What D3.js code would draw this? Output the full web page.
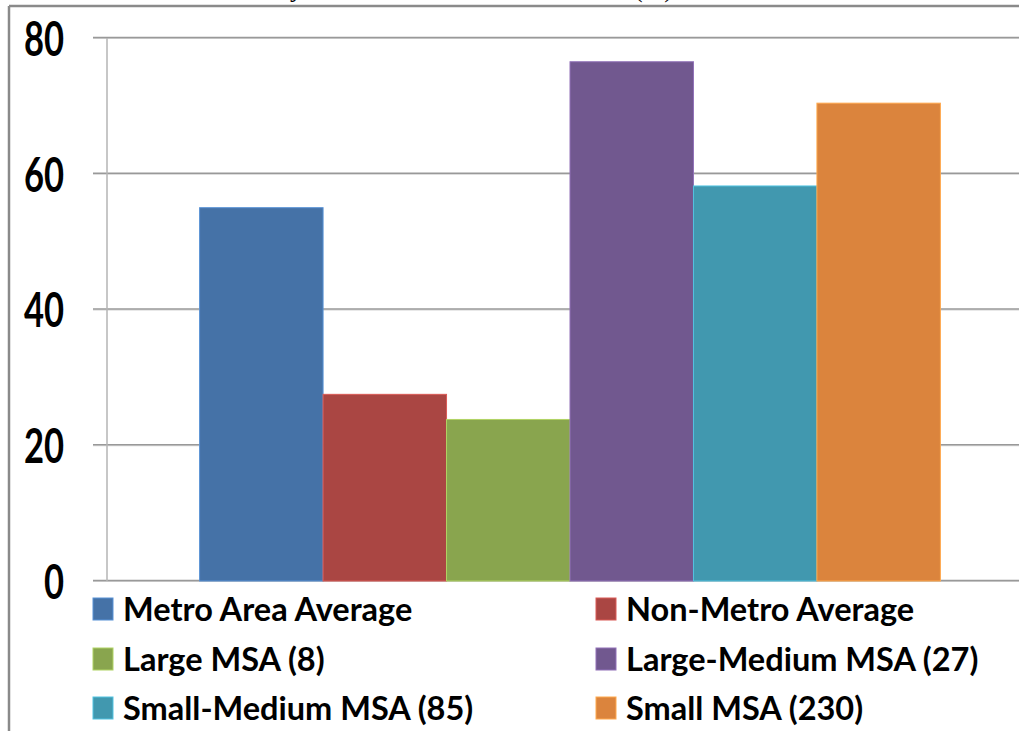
<!DOCTYPE html>
<html>
<head>
<meta charset="utf-8">
<script src="https://cdn.jsdelivr.net/npm/d3@7"></script>
<style>
  html, body { margin: 0; padding: 0; background: #fff; }
  svg { display: block; }
</style>
</head>
<body>
<svg id="chart" width="1019" height="731"></svg>
<script>
// Series shown as one cluster of bars
const seriesNames = [
  "Metro Area Average",
  "Non-Metro Average",
  "Large MSA (8)",
  "Large-Medium MSA (27)",
  "Small-Medium MSA (85)",
  "Small MSA (230)"
];
const seriesValues = [55, 27.5, 23.8, 76.5, 58.2, 70.4];
const seriesColors = ["#4572A7", "#AA4643", "#89A54E", "#71588F", "#4198AF", "#DB843D"];
const yTicks = [0, 20, 40, 60, 80];

const svg = d3.select("#chart");
const W = 1019, H = 731;

// Plot area (right side runs past the visible canvas)
const plot = { left: 107, right: 1033, top: 38, bottom: 581 };
const gapWidth = 1.5; // gap between clusters, as a fraction of one bar

const x = d3.scaleBand()
  .domain(seriesNames)
  .range([plot.left, plot.right])
  .paddingInner(0)
  .paddingOuter(gapWidth / 2);

const y = d3.scaleLinear()
  .domain([0, 80])
  .range([plot.bottom, plot.top]);

// Outer frame
svg.append("line")
  .attr("x1", 9).attr("x2", W).attr("y1", 6).attr("y2", 6)
  .attr("stroke", "#8a8a8a").attr("stroke-width", 2.5);
svg.append("line")
  .attr("x1", 9).attr("x2", 9).attr("y1", 6).attr("y2", H)
  .attr("stroke", "#8a8a8a").attr("stroke-width", 2.5);

// Title, sitting above the top of the canvas
const titleG = svg.append("g")
  .attr("font-family", "'Liberation Serif', 'DejaVu Serif', serif")
  .attr("font-size", 26).attr("fill", "#000");
titleG.append("text").attr("x", 290).attr("y", -3).text("y");
titleG.append("text").attr("x", 634).attr("y", -3).text("(%)");

// Horizontal gridlines with their outward tick marks
const grid = svg.append("g");
grid.selectAll("line.grid")
  .data(yTicks)
  .join("line")
  .attr("class", "grid")
  .attr("x1", plot.left - 14)
  .attr("x2", plot.right)
  .attr("y1", d => y(d) + 0.5)
  .attr("y2", d => y(d) + 0.5)
  .attr("stroke", "#d2d2d2")
  .attr("stroke-width", 1);
grid.selectAll("line.grid2")
  .data(yTicks)
  .join("line")
  .attr("class", "grid2")
  .attr("x1", plot.left - 14)
  .attr("x2", plot.right)
  .attr("y1", d => y(d) - 0.5)
  .attr("y2", d => y(d) - 0.5)
  .attr("stroke", "#999")
  .attr("stroke-width", 1.5);

// Vertical value axis line
svg.append("line")
  .attr("x1", plot.left).attr("x2", plot.left)
  .attr("y1", plot.top).attr("y2", plot.bottom)
  .attr("stroke", "#b4b4b4").attr("stroke-width", 1.5);

// Bars
svg.append("g")
  .selectAll("rect")
  .data(seriesNames.map((n, i) => ({ name: n, value: seriesValues[i], color: seriesColors[i] })))
  .join("rect")
  .attr("x", d => x(d.name))
  .attr("width", x.bandwidth())
  .attr("y", d => y(d.value))
  .attr("height", d => y(0) - y(d.value))
  .attr("fill", d => d.color)
  .attr("stroke", d => d3.color(d.color).brighter(0.7))
  .attr("stroke-width", 1);

// Value axis labels (tall, narrow digits)
const axis = d3.axisLeft(y).tickValues(yTicks).tickSize(0).tickFormat(d3.format("d"));
const axG = svg.append("g")
  .attr("transform", `translate(${plot.left},0)`)
  .call(axis);
axG.select(".domain").remove();
axG.selectAll(".tick text")
  .attr("x", 0)
  .attr("dy", "0.36em")
  .attr("transform", "translate(-43,0) scale(0.72,1)")
  .attr("font-family", "Lato, 'Open Sans', sans-serif")
  .attr("font-weight", 700)
  .attr("font-size", 48)
  .attr("fill", "#000");

// Legend: two columns, filled row by row
const legendCols = [93, 596];
const legendRows = [609, 659, 708];
const legend = svg.append("g")
  .selectAll("g")
  .data(seriesNames)
  .join("g")
  .attr("transform", (d, i) => `translate(${legendCols[i % 2]},${legendRows[Math.floor(i / 2)]})`);
legend.append("rect")
  .attr("x", 0).attr("y", -11)
  .attr("width", 20).attr("height", 22)
  .attr("fill", (d, i) => seriesColors[i])
  .attr("stroke", (d, i) => d3.color(seriesColors[i]).brighter(0.7))
  .attr("stroke-width", 1);
legend.append("text")
  .attr("x", 30)
  .attr("dy", "0.36em")
  .attr("font-family", "Lato, 'Open Sans', sans-serif")
  .attr("font-weight", 700)
  .attr("font-size", 32.5)
  .attr("fill", "#000")
  .text(d => d);
</script>
</body>
</html>
